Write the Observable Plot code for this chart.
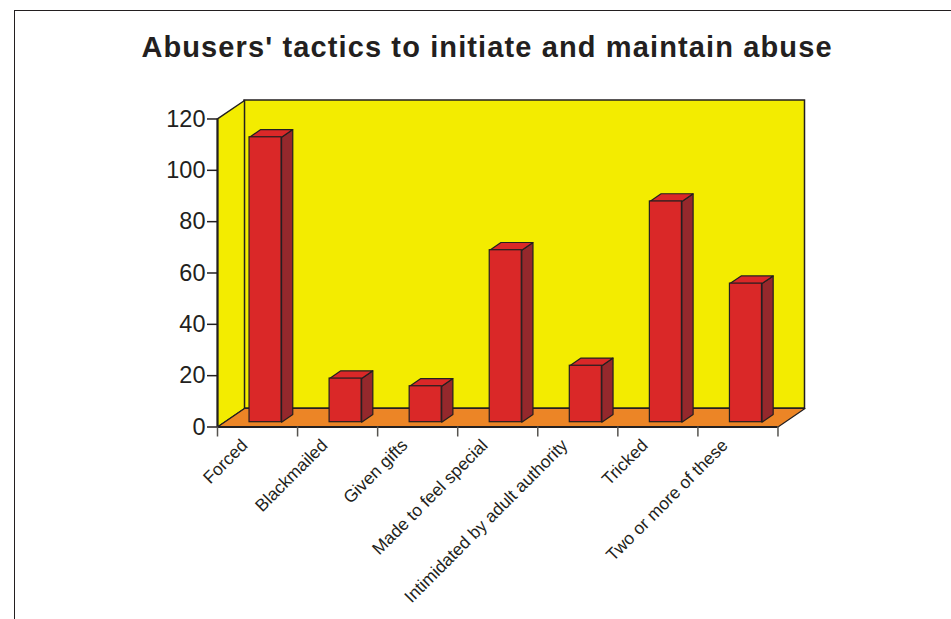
<!DOCTYPE html>
<html>
<head>
<meta charset="utf-8">
<script src="https://cdn.jsdelivr.net/npm/d3@7"></script>
<script src="https://cdn.jsdelivr.net/npm/@observablehq/plot@0.6"></script>
<style>
html,body{margin:0;padding:0;background:#fff;width:951px;height:619px;overflow:hidden}
#frame{position:absolute;left:14px;top:10px;width:940px;height:620px;border-left:1.5px solid #231f20;border-top:1.5px solid #231f20}
#title{position:absolute;left:0;top:30px;width:974px;text-align:center;font:bold 29px "Liberation Sans",Arial,sans-serif;letter-spacing:1.12px;color:#231f20;line-height:34px}
#chart{position:absolute;left:0;top:0}
svg{display:block;overflow:visible}
</style>
</head>
<body>
<div id="chart"></div>
<div id="frame"></div>
<div id="title">Abusers' tactics to initiate and maintain abuse</div>
<script>
const categories = ["Forced","Blackmailed","Given gifts","Made to feel special","Intimidated by adult authority","Tricked","Two or more of these"];
const values = [111,17,14,67,22,86,54];
const yTicks = [0,20,40,60,80,100,120];
const slots = [0,1,2,3,4,5,6,7];

// depth of the 3D box and bars, in data units
const wallDX = 0.3375, wallDY = 7.2;
const barLeft = 0.4, barWidth = 0.4, barDX = 0.14, barDY = 3, barBase = 1.87;
const n = categories.length, yMax = 120;

const ink = "#231f20";
const bars = categories.map((c,i)=>({c, i, v:values[i], x1:i+barLeft, x2:i+barLeft+barWidth, y1:barBase, y2:barBase+values[i]}));

const poly = (key, pts) => pts.map(([x,y])=>({key,x,y}));
const leftWall = poly("left", [[0,0],[0,yMax],[wallDX,yMax+wallDY],[wallDX,wallDY],[0,0]]);
const floor = poly("floor", [[0,0],[wallDX,wallDY],[n+wallDX,wallDY],[n,0],[0,0]]);
const sides = bars.flatMap(b=>poly("s"+b.i, [[b.x2,b.y1],[b.x2+barDX,b.y1+barDY],[b.x2+barDX,b.y2+barDY],[b.x2,b.y2],[b.x2,b.y1]]));
const tops = bars.flatMap(b=>poly("t"+b.i, [[b.x1,b.y2],[b.x1+barDX,b.y2+barDY],[b.x2+barDX,b.y2+barDY],[b.x2,b.y2],[b.x1,b.y2]]));

const plot = Plot.plot({
  width: 951, height: 619,
  marginLeft: 217, marginRight: 146.5, marginTop: 100, marginBottom: 192.5,
  style: {background:"transparent", fontFamily:"'Liberation Sans',Arial,sans-serif", overflow:"visible"},
  x: {type:"linear", domain:[0,n+wallDX]},
  y: {type:"linear", domain:[0,yMax+wallDY]},
  marks: [
    Plot.rect([{}], {x1:wallDX, x2:n+wallDX, y1:wallDY, y2:yMax+wallDY, fill:"#f3ec00", stroke:ink, strokeWidth:1.5}),
    Plot.line(leftWall, {x:"x", y:"y", z:"key", fill:"#f3ec00", stroke:ink, strokeWidth:1.5}),
    Plot.line(floor, {x:"x", y:"y", z:"key", fill:"#ec8526", stroke:ink, strokeWidth:1.2}),
    Plot.ruleY([0], {x1:0, x2:n, stroke:ink, strokeWidth:2}),
    Plot.ruleX([0], {y1:0, y2:yMax, stroke:ink, strokeWidth:2}),
    Plot.axisY({ticks:yTicks, tickFormat:d=>String(d), tickSize:10, tickPadding:2, fontSize:23.5, stroke:ink, color:ink, strokeWidth:1.5, label:null}),
    Plot.axisX({ticks:slots, tickFormat:()=>"", tickSize:10, stroke:"#55534f", strokeWidth:1.5, label:null}),
    Plot.line(sides, {x:"x", y:"y", z:"key", fill:"#95282c", stroke:ink, strokeWidth:1.2}),
    Plot.line(tops, {x:"x", y:"y", z:"key", fill:"#da2828", stroke:ink, strokeWidth:1.2}),
    Plot.rect(bars, {x1:"x1", x2:"x2", y1:"y1", y2:"y2", fill:"#da2828", stroke:ink, strokeWidth:1.2}),
    Plot.text(categories, {x:(d,i)=>i+0.5, y:0, text:d=>d, rotate:-45, textAnchor:"end", dx:-13, dy:15.5, fontSize:17.4, fill:ink})
  ]
});
document.getElementById("chart").appendChild(plot);
</script>
</body>
</html>
